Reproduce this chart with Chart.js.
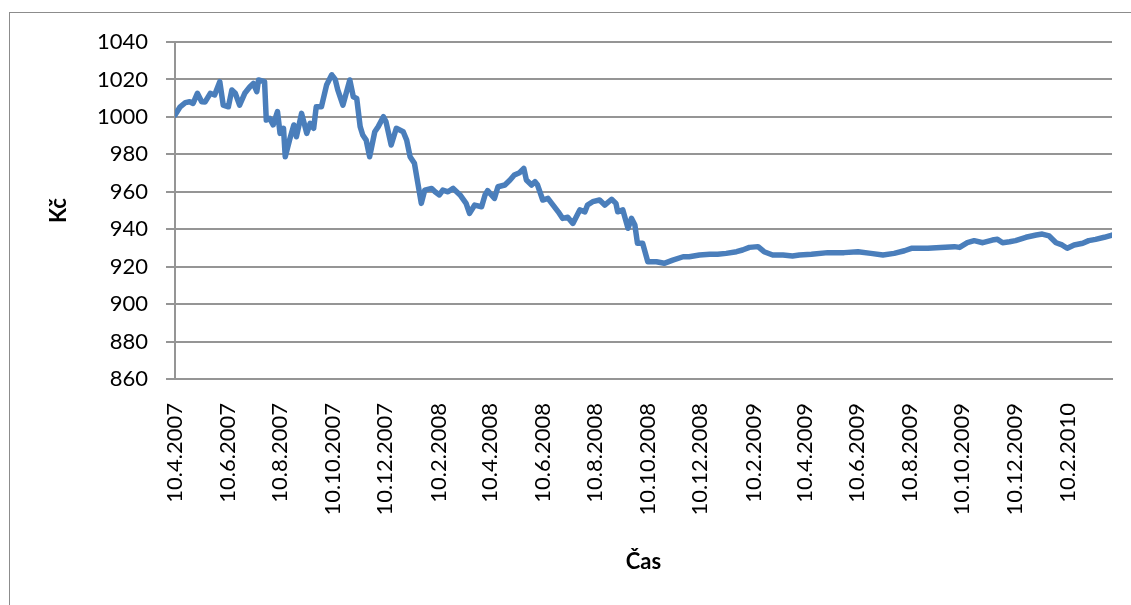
<!DOCTYPE html>
<html>
<head>
<meta charset="utf-8">
<script src="https://cdn.jsdelivr.net/npm/chart.js@4/dist/chart.umd.min.js"></script>
<style>
body{margin:0;background:#fff;}
#ramecek{position:absolute;left:9px;top:12px;width:1140px;height:620px;border:1px solid #8c8c8c;}
#graf{position:absolute;left:0;top:0;}
</style>
</head>
<body>
<div id="ramecek"></div>
<canvas id="graf" width="1131" height="605"></canvas>
<script>
// dny od 10.4.2007 a kurz v Kč
var dny = [0,6,12,17,21,26,31,35,41,46,52,56,62,66,70,75,81,87,91,95,97,104,
  106,110,114,119,122,126,128,133,138,141,147,153,157,161,164,170,176,182,186,
  189,195,203,207,211,215,218,222,226,232,236,242,245,251,257,265,269,273,278,
  282,286,290,298,302,307,311,317,323,331,338,342,348,356,360,363,371,375,383,
  389,394,400,405,408,414,418,421,427,433,439,445,450,456,462,470,476,479,485,
  493,499,507,512,514,520,526,530,534,537,543,549,559,568,578,590,597,609,621,
  630,640,652,659,667,677,684,694,706,717,725,739,758,777,793,808,822,835,847,
  855,874,889,905,911,920,928,938,949,955,961,969,976,988,1000,1007,1015,1023,
  1030,1036,1044,1054,1061,1069,1079,1088];
var kurz = [1001,1005.4,1007.6,1008.1,1007.2,1012.6,1008.1,1008,1012.6,1011.7,1018.8,1006.3,1005.4,1014.4,1012.6,1006.3,1012.6,1016.1,1017.9,1013.5,1019.7,1018.8,
  998.3,999.2,995.7,1002.8,991.2,993.9,978.7,987.6,995.7,989.4,1001.9,991.2,996.6,993.9,1005.4,1005.4,1017,1022.5,1020,
  1014.4,1006.3,1019.7,1010.8,1009.9,994.8,990.3,987.6,978.7,992.1,994.8,1000.1,997.4,985,993.9,992.1,987.6,978.7,975.2,
  964.5,953.8,960.9,961.8,960,958.3,960.9,960,961.8,958.3,953.8,948.5,952.9,952,958.3,960.6,956.5,962.7,963.6,
  966.3,969,970.2,972.5,966.3,963.6,965.4,963.6,955.6,956.5,952.9,949.3,945.8,946.4,943.1,950.3,949.3,952.9,954.7,
  955.6,952.9,956,953.8,949.3,950.3,940.5,945.8,942.2,932.5,932.5,922.6,922.6,921.8,923.5,925.3,925.3,926.2,926.6,
  926.6,927.1,928,928.9,930.3,930.7,928,926.2,926.2,925.7,926.2,926.6,927.5,927.5,928,927.1,926.2,927.1,928.5,
  929.8,929.8,930.3,930.7,930.3,932.8,933.9,932.8,934.2,934.6,932.8,933.3,933.9,935.7,936.9,937.4,936.4,932.8,
  931.6,929.8,931.6,932.5,933.9,934.6,935.7,936.9];

// popisky osy x po dvou mesicich
var popiskyX = ['10.4.2007','10.6.2007','10.8.2007','10.10.2007','10.12.2007','10.2.2008','10.4.2008',
  '10.6.2008','10.8.2008','10.10.2008','10.12.2008','10.2.2009','10.4.2009','10.6.2009','10.8.2009',
  '10.10.2009','10.12.2009','10.2.2010'];
var osaY = {min: 860, max: 1040, krok: 20};

var start = Date.UTC(2007, 3, 10);
function naDen(txt){
  var p = txt.split('.');
  return Math.round((Date.UTC(+p[2], +p[1]-1, +p[0]) - start) / 86400000);
}
var tickyX = popiskyX.map(naDen);

function datum(v){
  var d = new Date(start + v*86400000);
  return d.getUTCDate()+'.'+(d.getUTCMonth()+1)+'.'+d.getUTCFullYear();
}

var body = [];
for (var i = 0; i < dny.length; i++) body.push({x: dny[i], y: kurz[i]});

var pismo = {family: 'Lato', size: 22};
var seda = '#959595';

new Chart(document.getElementById('graf'), {
  type: 'line',
  data: {
    datasets: [{
      data: body,
      borderColor: '#4a7ebb',
      borderWidth: 5.5,
      pointRadius: 0,
      borderJoinStyle: 'round',
      borderCapStyle: 'round',
      tension: 0
    }]
  },
  options: {
    responsive: false,
    animation: false,
    layout: {padding: {top: 42, right: 19, bottom: 0, left: 0}},
    plugins: {legend: {display: false}, tooltip: {enabled: false}},
    scales: {
      x: {
        type: 'linear',
        min: 0,
        max: 1088,
        afterBuildTicks: function(s){ s.ticks = tickyX.map(function(v){ return {value: v}; }); },
        afterFit: function(s){ s.height = 226; },
        grid: {display: true, drawOnChartArea: false, drawTicks: false},
        border: {color: seda, width: 2},
        ticks: {
          autoSkip: false, minRotation: 90, maxRotation: 90, padding: 24,
          font: pismo, color: '#000',
          callback: function(v){ return datum(v); }
        },
        title: {display: true, text: 'Čas', color: '#000',
          font: {family: 'Lato', size: 22, weight: 'bold'}, padding: {top: 0, bottom: 30}}
      },
      y: {
        min: osaY.min,
        max: osaY.max,
        afterFit: function(s){ s.width = 175; },
        grid: {color: seda, lineWidth: 2, tickLength: 9, tickColor: seda},
        border: {color: seda, width: 2},
        ticks: {stepSize: osaY.krok, padding: 18, font: pismo, color: '#000',
          callback: function(v){ return String(v); }},
        title: {display: true, text: 'Kč', color: '#000',
          font: {family: 'Lato', size: 22, weight: 'bold'}, padding: {top: 46, bottom: 0}}
      }
    }
  }
});
</script>
</body>
</html>
